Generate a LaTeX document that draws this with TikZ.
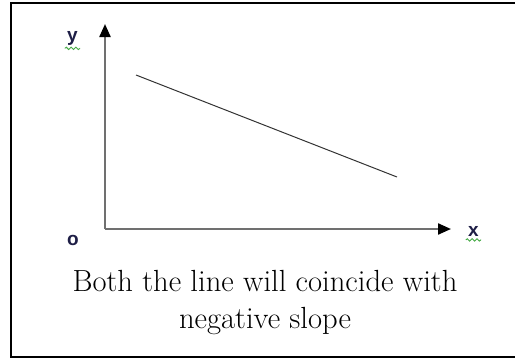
\documentclass[tikz,border=0pt]{standalone}
\usepackage{fontspec}
\usepackage{xcolor}
\usetikzlibrary{arrows.meta,decorations.pathmorphing}
\newfontfamily\labelfont{Liberation Sans}
\definecolor{AxisGray}{RGB}{112,112,112}
\definecolor{LabelInk}{RGB}{30,30,70}
\definecolor{SpellGreen}{RGB}{70,170,70}
\tikzset{
  axis/.style={AxisGray,line width=1.1pt,
               -{Triangle[length=6.5pt,width=5.5pt,color=black]}},
  dataline/.style={black!80,line width=0.5pt},
  axlabel/.style={font=\labelfont\bfseries\fontsize{9.5}{10}\selectfont,text=LabelInk,
                  inner sep=0pt},
  squiggle/.style={SpellGreen,line width=0.45pt,decorate,
                   decoration={snake,amplitude=0.6pt,segment length=2.4pt}},
  caption/.style={font=\fontsize{15.3}{18.5}\selectfont,inner sep=0pt,anchor=base},
}
\begin{document}
\begin{tikzpicture}[x=0.5pt,y=-0.5pt]
        \useasboundingbox (0,0) rectangle (515,360);
        \draw[line width=1pt] (11,3) rectangle (522,357);
        \coordinate (o) at (105,229);
        \coordinate (ytip) at (105,24);
        \coordinate (xtip) at (451,229);
        \coordinate (p) at (136,75);
        \coordinate (q) at (397,177);
        \draw[axis] (o)--(ytip); \draw[axis] (o)--(xtip);
        \draw[dataline] (p)--(q);
        \node[axlabel] (ylab) at (72.5,38) {y};
        \node[axlabel] (olab) at (73,240) {o};
        \node[axlabel] (xlab) at (473.5,231.5) {x};
        \draw[squiggle] ([shift={(-1pt,-1.5pt)}]ylab.south west)--([shift={(1pt,-1.5pt)}]ylab.south east);
        \draw[squiggle] ([shift={(-1pt,-1.5pt)}]xlab.south west)--([shift={(1pt,-1.5pt)}]xlab.south east);
        \node[caption] (capa) at (265,291) {Both the line will coincide with};
        \node[caption] (capb) at (265,328) {negative slope};
      \end{tikzpicture}
\end{document}
